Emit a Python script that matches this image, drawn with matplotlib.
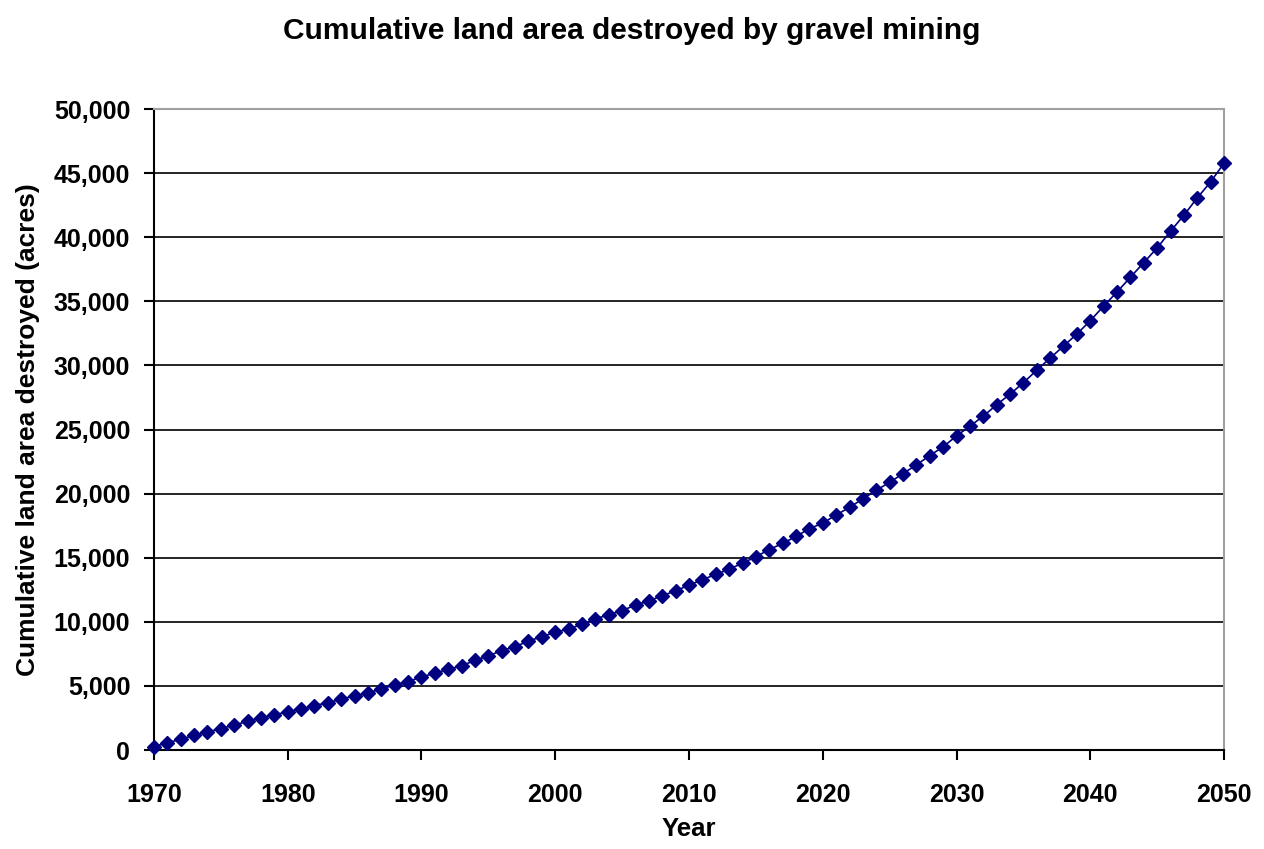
import matplotlib.pyplot as plt
from matplotlib.ticker import FuncFormatter, MultipleLocator

years = list(range(1970, 2051))
acres = [
    260, 570, 830, 1150, 1410, 1670, 1950, 2240, 2530, 2730,
    3000, 3180, 3460, 3700, 3960, 4250, 4450, 4770, 5080, 5340,
    5700, 5990, 6300, 6560, 7000, 7340, 7760, 8070, 8490, 8850,
    9180, 9450, 9800, 10230, 10550, 10880, 11300, 11640, 12030, 12420,
    12860, 13280, 13700, 14100, 14580, 15070, 15640, 16110, 16660, 17260,
    17700, 18330, 18930, 19590, 20260, 20880, 21560, 22240, 22970, 23650,
    24500, 25260, 26040, 26930, 27760, 28650, 29630, 30570, 31510, 32450,
    33490, 34630, 35730, 36880, 38020, 39170, 40470, 41720, 43070, 44320,
    45780,
]

plt.rcParams['font.family'] = ['Liberation Sans', 'DejaVu Sans']

fig = plt.figure(figsize=(12.64, 8.49), dpi=100)
ax = fig.add_axes([0.1218, 0.1166, 0.8466, 0.755])

ax.plot(years, acres, color='#000080', linewidth=1.2, marker='D',
        markersize=7, markerfacecolor='#000080', markeredgecolor='#000080',
        clip_on=False, zorder=3)

ax.set_xlim(1970, 2050)
ax.set_ylim(0, 50000)
ax.xaxis.set_major_locator(MultipleLocator(10))
ax.yaxis.set_major_locator(MultipleLocator(5000))
ax.yaxis.set_major_formatter(FuncFormatter(lambda v, p: f'{int(v):,}'))

ax.grid(axis='y', color='black', linewidth=1.2)
ax.set_axisbelow(True)

for side in ['top', 'right']:
    ax.spines[side].set_color('#a0a0a0')
    ax.spines[side].set_linewidth(1.5)
for side in ['left', 'bottom']:
    ax.spines[side].set_color('black')
    ax.spines[side].set_linewidth(1.5)

ax.tick_params(axis='both', direction='out', length=7, width=1.5,
               labelsize=18, colors='black')
ax.tick_params(axis='x', pad=17)
ax.tick_params(axis='y', pad=10)
for lbl in ax.get_xticklabels() + ax.get_yticklabels():
    lbl.set_fontweight('bold')

ax.set_xlabel('Year', fontsize=18.5, fontweight='bold', labelpad=7)
ax.set_ylabel('Cumulative land area destroyed (acres)', fontsize=19,
              fontweight='bold', labelpad=10)
fig.suptitle('Cumulative land area destroyed by gravel mining',
             fontsize=21.5, fontweight='bold', y=0.98, va='top')

fig.savefig('out.png', dpi=100)
